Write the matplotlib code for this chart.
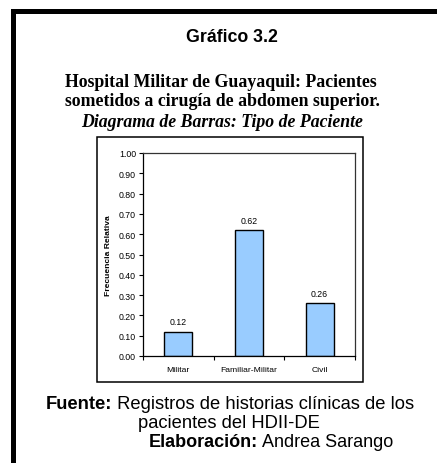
import numpy as np
import matplotlib.pyplot as plt
from matplotlib.patches import Rectangle

# data
categorias = ["Militar", "Familiar-Militar", "Civil"]
frecuencia = [0.12, 0.62, 0.26]
yticks = np.arange(0, 1.01, 0.1)

W, H = 437, 464
fig = plt.figure(figsize=(W / 100, H / 100), dpi=100)
fig.patch.set_facecolor("white")
renderer = fig.canvas.get_renderer()

def fx(px):
    return px / W

def fy(py):
    return 1 - py / H

def mixed_line(cx, cy, bold_txt, reg_txt, size):
    # bold label followed by regular text, centred together at cx, baseline cy (pixels)
    b = fig.text(0, fy(cy), bold_txt, va="baseline", ha="left",
                 family="Liberation Sans", fontweight="bold", fontsize=size)
    r = fig.text(0, fy(cy), " " + reg_txt, va="baseline", ha="left",
                 family="Liberation Sans", fontsize=size)
    wb = b.get_window_extent(renderer).width
    wr = r.get_window_extent(renderer).width
    x0 = cx - (wb + wr) / 2
    b.set_x(fx(x0))
    r.set_x(fx(x0 + wb))

# thick outer frame (left and top)
fig.patches.append(Rectangle((fx(11), 0), fx(5), fy(10), transform=fig.transFigure,
                             facecolor="black", edgecolor="none"))
fig.patches.append(Rectangle((fx(11), fy(15)), 1 - fx(11), fy(10) - fy(15),
                             transform=fig.transFigure, facecolor="black", edgecolor="none"))

# chart box
fig.patches.append(Rectangle((fx(97), fy(383)), fx(363) - fx(97), fy(138) - fy(383),
                             transform=fig.transFigure, facecolor="none",
                             edgecolor="black", linewidth=1.1))

# titles
fig.text(fx(232), fy(42), "Gráfico 3.2", ha="center", va="baseline",
         family="Liberation Sans", fontweight="bold", fontsize=12.8)
fig.text(fx(221), fy(87), "Hospital Militar de Guayaquil: Pacientes", ha="center", va="baseline",
         family="Liberation Serif", fontweight="bold", fontsize=12.8)
fig.text(fx(222), fy(106), "sometidos a cirugía de abdomen superior.", ha="center", va="baseline",
         family="Liberation Serif", fontweight="bold", fontsize=12.8)
fig.text(fx(222), fy(127), "Diagrama de Barras: Tipo de Paciente", ha="center", va="baseline",
         family="Liberation Serif", fontweight="bold", fontstyle="italic", fontsize=12.8)

# bar chart
ax = fig.add_axes([fx(143), fy(357), fx(355) - fx(143), fy(154) - fy(357)])
x = np.arange(len(categorias))
ax.bar(x, frecuencia, width=0.4, color="#99CCFF", edgecolor="black", linewidth=1.0)
for xi, v in zip(x, frecuencia):
    ax.annotate(f"{v:.2f}", (xi, v), xytext=(0, 4), textcoords="offset points",
                ha="center", va="bottom", fontsize=6.3, family="Liberation Sans")

ax.set_xlim(-0.5, 2.5)
ax.set_ylim(0, 1)
ax.set_yticks(yticks)
ax.set_yticklabels([f"{t:.2f}" for t in yticks], family="Liberation Sans", fontsize=6.3)
ax.set_xticks(x)
ax.set_xticklabels(categorias, family="Liberation Sans", fontsize=6.1)
ax.tick_params(axis="x", which="major", length=0, pad=7)
ax.set_xticks([-0.5, 0.5, 1.5, 2.5], minor=True)
ax.tick_params(axis="x", which="minor", length=3, direction="out", width=0.8)
ax.tick_params(axis="y", length=3, direction="out", width=0.8, pad=2)
ax.set_ylabel("Frecuencia Relativa", family="Liberation Sans", fontweight="bold",
              fontsize=6.1, labelpad=5)
for s in ax.spines.values():
    s.set_linewidth(0.9)
ax.spines["top"].set_color("#333333")
ax.spines["right"].set_color("#333333")

# footer
mixed_line(230, 409, "Fuente:", "Registros de historias clínicas de los", 13.2)
fig.text(fx(229), fy(428), "pacientes del HDII-DE", ha="center", va="baseline",
         family="Liberation Sans", fontsize=13.2)
mixed_line(271, 447, "Elaboración:", "Andrea Sarango", 13.0)

fig.savefig("out.png", dpi=100)
